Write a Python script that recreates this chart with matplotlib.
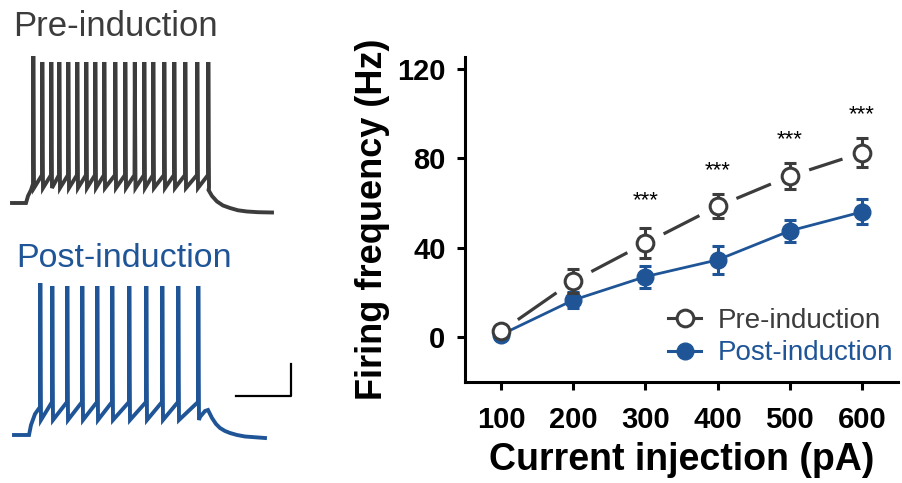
import matplotlib.pyplot as plt
import numpy as np
from matplotlib.lines import Line2D

plt.rcParams['font.family'] = ['Liberation Sans', 'DejaVu Sans']

GRAY = "#3c3c3c"
BLUE = "#1f5597"

# firing frequency vs current
currents = [100, 200, 300, 400, 500, 600]
pre_mean = [2.5, 25, 42, 58.5, 72, 82.5]
pre_sem = [1.5, 5.3, 6.8, 5.4, 5.9, 6.5]
post_mean = [1, 16.5, 27, 34.5, 47.5, 56]
post_sem = [1, 3.7, 4.9, 6.2, 4.9, 5.6]
sig_x = [300, 400, 500, 600]
sig_y = [61, 74.5, 88.5, 99.5]
yticks = [0, 40, 80, 120]

# example traces (pixel units of the panel), spike times
pre_spikes = [33, 42, 51, 59, 68, 77, 86, 95, 104, 115, 125, 134.5, 144,
              153, 164, 174, 185, 197, 208]
pre_onset = [(12, 203), (26, 203), (28, 196), (31, 190), (33, 184)]
pre_tail = [(208.5, 190), (212, 196), (217, 201.5), (223, 205.5), (230, 208),
            (238, 210.3), (247, 211.5), (258, 212.2), (272, 212.5)]
post_spikes = [40, 52, 67, 82, 97, 112, 129, 146, 162, 178, 198]
post_onset = [(14, 435), (29, 435), (31, 425), (35, 414), (40, 407)]
post_tail = [(200, 417), (205, 411), (208, 410), (212, 418), (216, 424),
             (220, 428), (225, 431), (230, 433), (237, 435), (245, 436.5),
             (265, 438)]


def build_trace(spikes, onset, tail, peak_first, peak, trough, thresh):
    xs = [p[0] for p in onset]
    ys = [p[1] for p in onset]
    for i, t in enumerate(spikes):
        if i > 0:
            xs.append(t)
            ys.append(thresh)
        xs += [t + 0.3, t + 1.0]
        ys += [peak_first if i == 0 else peak, trough]
    xs += [p[0] for p in tail]
    ys += [p[1] for p in tail]
    return xs, ys


fig = plt.figure(figsize=(9.03, 4.83), dpi=100)

tr = fig.add_axes([0, 0, 1, 1], zorder=0)
tr.set_xlim(0, 903)
tr.set_ylim(483, 0)
tr.axis("off")

x, y = build_trace(pre_spikes, pre_onset, pre_tail, 56, 62, 188, 175)
tr.plot(x, y, color=GRAY, lw=2.8, solid_joinstyle="miter")
x, y = build_trace(post_spikes, post_onset, post_tail, 283, 286, 420, 402)
tr.plot(x, y, color=BLUE, lw=2.8, solid_joinstyle="miter")
tr.plot([236, 291, 291], [396, 396, 364], color="black", lw=1.6)
tr.text(13, 36, "Pre-induction", fontsize=25, color=GRAY, va="baseline")
tr.text(16, 267, "Post-induction", fontsize=24.5, color=BLUE, va="baseline")

ax = fig.add_axes([465 / 903, 1 - 382 / 483, (898 - 465) / 903, (382 - 57) / 483], zorder=1)
ax.patch.set_alpha(0)
ax.set_xlim(50, 650)
ax.set_ylim(-20.2, 125.4)

# pre line with gaps around the markers
gap = 22
pts = ax.transData.transform(np.column_stack([currents, pre_mean]))
inv = ax.transData.inverted()
for p0, p1 in zip(pts[:-1], pts[1:]):
    u = (p1 - p0) / np.hypot(*(p1 - p0))
    seg = inv.transform([p0 + u * gap, p1 - u * gap])
    ax.plot(seg[:, 0], seg[:, 1], color=GRAY, lw=2.3, zorder=2)

ax.errorbar(currents, post_mean, yerr=post_sem, color=BLUE, lw=2.0, marker="o",
            ms=12, mfc=BLUE, mec=BLUE, capsize=4, capthick=2.2, elinewidth=2.2,
            zorder=3)
ax.errorbar(currents, pre_mean, yerr=pre_sem, fmt="none", ecolor=GRAY,
            capsize=4, capthick=2.2, elinewidth=2.2, zorder=4)
ax.plot(currents, pre_mean, "o", ms=12, mfc="white", mec=GRAY, mew=2.2, zorder=5)

for sx, sy in zip(sig_x, sig_y):
    ax.text(sx, sy, "***", fontsize=16, ha="center", va="center")

for side in ["top", "right"]:
    ax.spines[side].set_visible(False)
for side in ["left", "bottom"]:
    ax.spines[side].set_linewidth(2.2)
ax.set_xticks(currents)
ax.set_yticks(yticks)
ax.tick_params(width=2.2, length=6, labelsize=21, pad=8)
ax.tick_params(axis="x", pad=11)
for lab in ax.get_xticklabels() + ax.get_yticklabels():
    lab.set_fontweight("bold")
ax.set_xlabel("Current injection (pA)", fontsize=27, fontweight="bold", labelpad=6)
ax.set_ylabel("Firing frequency (Hz)", fontsize=26, fontweight="bold", labelpad=5)

handles = [
    Line2D([], [], color=GRAY, lw=2.2, marker="o", ms=12, mfc="white", mec=GRAY, mew=2.2),
    Line2D([], [], color=BLUE, lw=2.2, marker="o", ms=12, mfc=BLUE, mec=BLUE),
]
fig.legend(handles, ["Pre-induction", "Post-induction"], loc="center left",
           bbox_to_anchor=(668 / 903, 1 - 337 / 483), frameon=False,
           fontsize=20, labelcolor=[GRAY, BLUE], handlelength=1.2,
           handletextpad=0.6, labelspacing=0.25, borderpad=0, borderaxespad=0)

fig.savefig("out.png", dpi=100)
